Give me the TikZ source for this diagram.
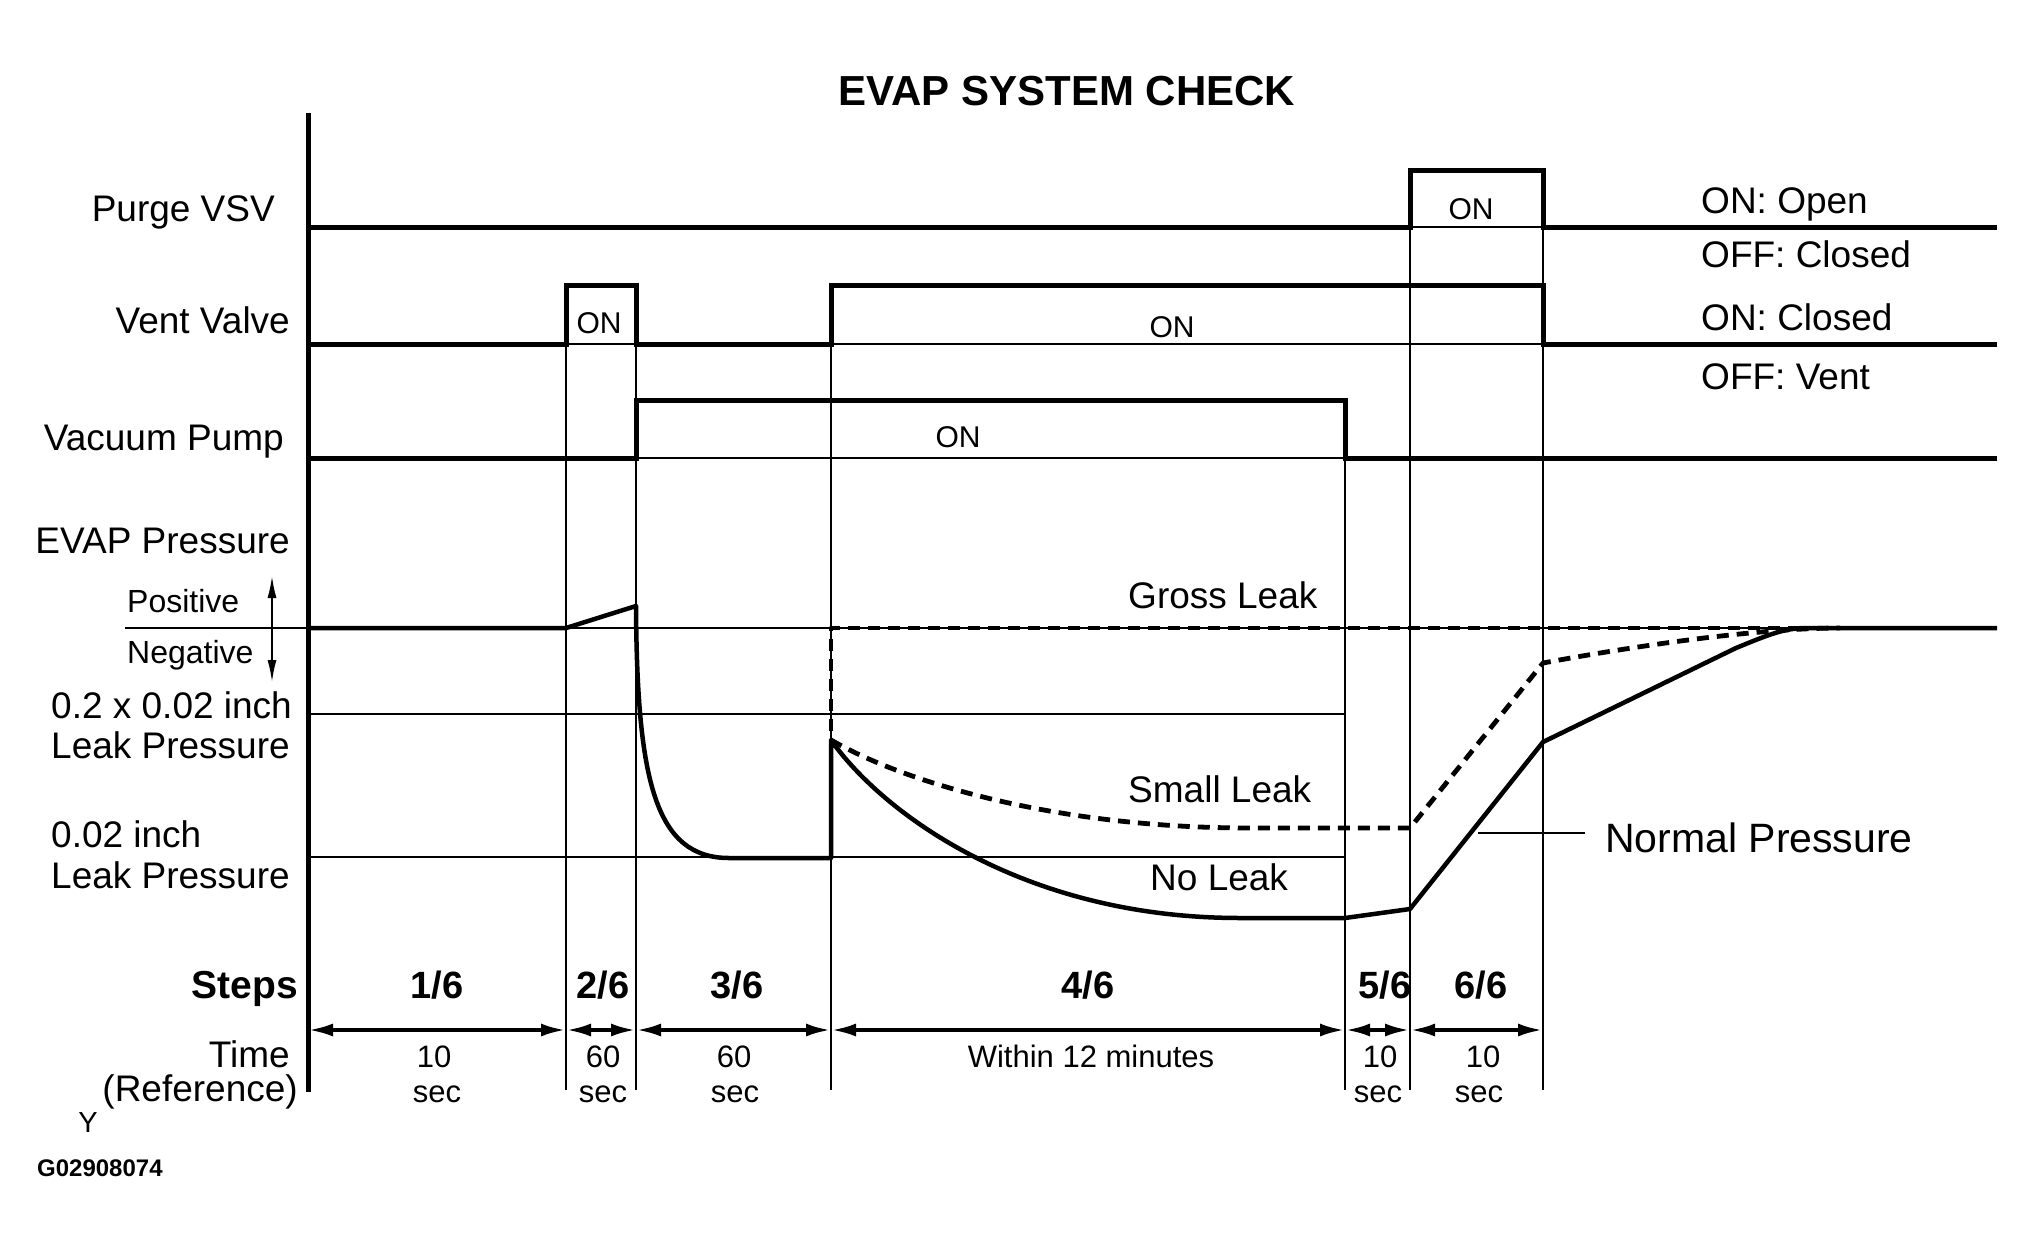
\documentclass[tikz,border=0pt]{standalone}
\usepackage{fontspec}
\setmainfont{Liberation Sans}
\usetikzlibrary{arrows.meta}
\begin{document}
\begin{tikzpicture}[x=1pt,y=-1pt,
  sig/.style={line width=5pt,line join=miter,line cap=butt},
  guide/.style={line width=1.8pt},
  curve/.style={line width=4.5pt,line join=round},
  dcurve/.style={line width=4.8pt,dash pattern=on 12pt off 8pt,line join=round},
  dim/.style={line width=4pt,{Latex[length=25pt,width=13pt]}-{Latex[length=25pt,width=13pt]}},
  lbl/.style={inner sep=0pt,font=\fontsize{37}{44}\selectfont},
  small/.style={inner sep=0pt,font=\fontsize{31}{37}\selectfont},
  onlbl/.style={inner sep=0pt,font=\fontsize{30}{36}\selectfont},
  steplbl/.style={inner sep=0pt,font=\fontsize{38}{45}\selectfont\bfseries}]
\useasboundingbox (0,0) rectangle (2036,1252);

% title
\node[inner sep=0pt,font=\fontsize{42}{50}\selectfont\bfseries,anchor=base] (title) at (1067,106) {EVAP SYSTEM CHECK};

% time boundaries
\coordinate (t0) at (308,1030);
\coordinate (t1) at (566,1030);
\coordinate (t2) at (636,1030);
\coordinate (t3) at (831,1030);
\coordinate (t4) at (1345,1030);
\coordinate (t5) at (1410,1030);
\coordinate (t6) at (1543,1030);

% vertical guides
\draw[guide] (566,344) -- (566,1090);
\draw[guide] (636,344) -- (636,1090);
\draw[guide] (831,344) -- (831,1090);
\draw[guide] (1345,458) -- (1345,1090);
\draw[guide] (1410,227) -- (1410,1090);
\draw[guide] (1543,227) -- (1543,1090);

% thin baselines under pulses
\draw[guide] (1410,227) -- (1543,227);
\draw[guide] (566,344) -- (636,344);
\draw[guide] (831,344) -- (1543,344);
\draw[guide] (636,458) -- (1345,458);

% pressure reference lines
\draw[guide] (125,628) -- (1997,628);
\draw[guide] (308,714) -- (1345,714);
\draw[guide] (308,857) -- (1345,857);

% axis
\draw[line width=5pt] (308,113) -- (308,1092);

% signals
\draw[sig] (308,227) -- (1410,227) -- (1410,171) -- (1543,171) -- (1543,227) -- (1997,227);
\draw[sig] (308,344) -- (566,344) -- (566,285) -- (636,285) -- (636,344) -- (831,344) -- (831,285) -- (1543,285) -- (1543,344) -- (1997,344);
\draw[sig] (308,458) -- (636,458) -- (636,400) -- (1345,400) -- (1345,458) -- (1997,458);

% pressure curves
\draw[curve] (308,628) -- (566,628) -- (636,606)
  .. controls (637,780) and (655,858) .. (729,858) -- (831,858) -- (831,740)
  .. controls (880,810) and (1020,918) .. (1240,918) -- (1345,918) -- (1410,909)
  -- (1543,742) -- (1736,648) .. controls (1770,634) and (1785,628) .. (1807,628) -- (1997,628);
\draw[dcurve] (1840,628) -- (831,628) -- (831,740);
\draw[dcurve] (831,740) .. controls (900,780) and (1050,828) .. (1250,828) -- (1410,828)
  -- (1543,663) .. controls (1640,645) and (1760,628) .. (1840,628);

% positive / negative arrow
\draw[guide,{Latex[length=22pt,width=9pt]}-{Latex[length=22pt,width=9pt]}] (272,576) -- (272,682);

% normal pressure leader
\coordinate (np) at (1478,833);
\draw[guide] (np) -- (1585,833);

% step dimension arrows
\draw[dim] (t0) -- (t1);
\draw[dim] (t1) -- (t2);
\draw[dim] (t2) -- (t3);
\draw[dim] (t3) -- (t4);
\draw[dim] (t4) -- (t5);
\draw[dim] (t5) -- (t6);

% left labels
\node[lbl,anchor=base east] (lpurge) at (275,222) {Purge VSV};
\node[lbl,anchor=base east] (lvent) at (290,333) {Vent Valve};
\node[lbl,anchor=base east] (lvac) at (284,450) {Vacuum Pump};
\node[lbl,anchor=base east] (levap) at (290,553) {EVAP Pressure};
\node[inner sep=0pt,font=\fontsize{32}{38}\selectfont,anchor=base west] (lpos) at (127,612) {Positive};
\node[inner sep=0pt,font=\fontsize{32}{38}\selectfont,anchor=base west] (lneg) at (127,663) {Negative};
\node[lbl,anchor=base west] (l02a) at (51,718) {0.2 x 0.02 inch};
\node[lbl,anchor=base west] (l02b) at (51,758) {Leak Pressure};
\node[lbl,anchor=base west] (l002a) at (51,847) {0.02 inch};
\node[lbl,anchor=base west] (l002b) at (51,888) {Leak Pressure};
\node[inner sep=0pt,font=\fontsize{39}{46}\selectfont\bfseries,anchor=base east] (lsteps) at (298,998) {Steps};
\node[lbl,anchor=base east] (ltime) at (290,1067) {Time};
\node[lbl,anchor=base east] (lref) at (298,1101) {(Reference)};
\node[inner sep=0pt,font=\fontsize{29}{35}\selectfont,anchor=base] (ly) at (88,1132) {Y};
\node[inner sep=0pt,font=\fontsize{24}{29}\selectfont\bfseries,anchor=base west] (lcode) at (37,1176) {G02908074};

% ON labels
\node[onlbl,anchor=base] (on1) at (1471,219) {ON};
\node[onlbl,anchor=base] (on2) at (599,333) {ON};
\node[onlbl,anchor=base] (on3) at (1172,337) {ON};
\node[onlbl,anchor=base] (on4) at (958,447) {ON};

% right labels
\node[lbl,anchor=base west] (r1) at (1701,213) {ON: Open};
\node[lbl,anchor=base west] (r2) at (1701,267) {OFF: Closed};
\node[lbl,anchor=base west] (r3) at (1701,330) {ON: Closed};
\node[lbl,anchor=base west] (r4) at (1701,389) {OFF: Vent};

% curve labels
\node[inner sep=0pt,font=\fontsize{37}{44}\selectfont,anchor=base west] (gross) at (1128,608) {Gross Leak};
\node[inner sep=0pt,font=\fontsize{37}{44}\selectfont,anchor=base west] (smallleak) at (1128,802) {Small Leak};
\node[inner sep=0pt,font=\fontsize{37}{44}\selectfont,anchor=base west] (noleak) at (1150,890) {No Leak};
\node[inner sep=0pt,font=\fontsize{41}{49}\selectfont,anchor=base west] (normal) at (1605,852) {Normal Pressure};

% steps
\node[steplbl,anchor=base] (s1) at (437,998) {1/6};
\node[steplbl,anchor=base] (s2) at (603,998) {2/6};
\node[steplbl,anchor=base] (s3) at (737,998) {3/6};
\node[steplbl,anchor=base] (s4) at (1088,998) {4/6};
\node[steplbl,anchor=base] (s5) at (1385,998) {5/6};
\node[steplbl,anchor=base] (s6) at (1481,998) {6/6};

% times
\node[small,anchor=base] (d1) at (434,1067) {10};
\node[small,anchor=base] (d1s) at (437,1102) {sec};
\node[small,anchor=base] (d2) at (603,1067) {60};
\node[small,anchor=base] (d2s) at (603,1102) {sec};
\node[small,anchor=base] (d3) at (734,1067) {60};
\node[small,anchor=base] (d3s) at (735,1102) {sec};
\node[small,anchor=base] (d4) at (1091,1067) {Within 12 minutes};
\node[small,anchor=base] (d5) at (1380,1067) {10};
\node[small,anchor=base] (d5s) at (1378,1102) {sec};
\node[small,anchor=base] (d6) at (1483,1067) {10};
\node[small,anchor=base] (d6s) at (1479,1102) {sec};
\end{tikzpicture}
\end{document}
